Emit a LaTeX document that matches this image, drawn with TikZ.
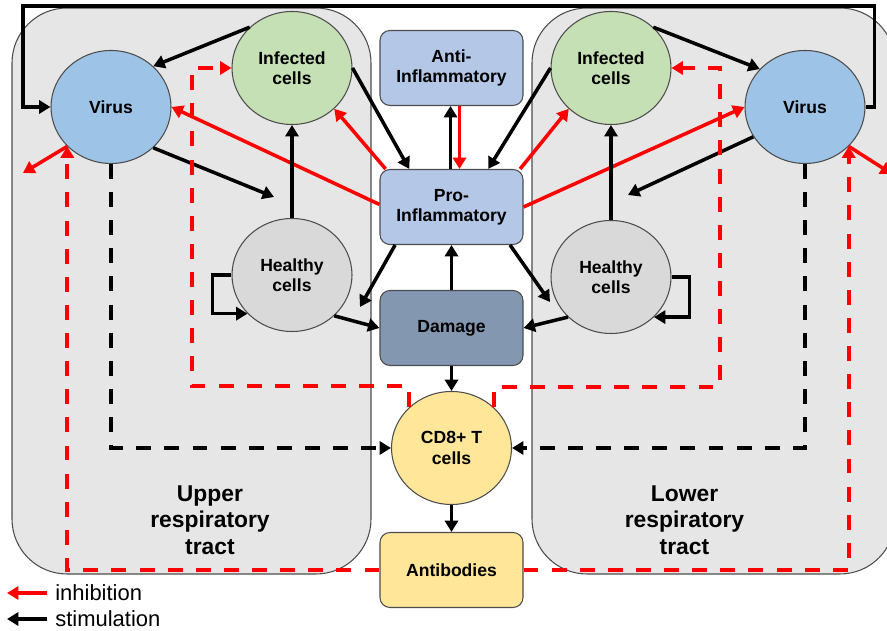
\documentclass[tikz,border=0pt]{standalone}
\usepackage{fontspec}
\setmainfont{Liberation Sans}
\usetikzlibrary{arrows.meta,shapes.geometric}

\definecolor{virusblue}{HTML}{9DC3E6}
\definecolor{infgreen}{HTML}{C5E0B4}
\definecolor{healthgray}{HTML}{D9D9D9}
\definecolor{inflblue}{HTML}{B4C7E7}
\definecolor{dmgblue}{HTML}{8497B0}
\definecolor{immyellow}{HTML}{FFE699}
\definecolor{regiongray}{HTML}{E7E6E6}

\begin{document}
\begin{tikzpicture}[
	cell/.style = {ellipse, draw=black!70, line width=0.6pt, minimum width=2.4cm, minimum height=2.26cm, inner sep=0pt, align=center, font=\fontsize{10}{11.5}\selectfont\bfseries},
	box/.style = {rectangle, rounded corners=0.2cm, draw=black!70, line width=0.6pt, minimum width=2.86cm, minimum height=1.5cm, align=center, font=\fontsize{10}{11.5}\selectfont\bfseries},
	region/.style = {fill=regiongray, draw=black!70, line width=0.6pt, rounded corners=1.1cm},
	regionlabel/.style = {align=center, font=\fontsize{13}{15}\selectfont\bfseries},
	stim/.style = {draw=black, line width=2pt, -{Triangle[length=6.5pt,width=7.5pt]}},
	inh/.style = {draw=red, line width=2pt, -{Triangle[length=6.5pt,width=7.5pt]}},
	stimd/.style = {stim, dash pattern=on 8.5pt off 7.5pt},
	inhd/.style = {inh, dash pattern=on 8.5pt off 7.5pt}
	]
	\useasboundingbox (0,0) rectangle (17.74,12.62);
	\draw[region] (0.24,1.14) rectangle (7.42,12.46);
	\draw[region] (10.64,1.14) rectangle (17.90,12.46);
	\node (UR) at ( 4.20,  2.22)	[regionlabel]	{Upper\\respiratory\\tract};
	\node (LR) at (13.69,  2.22)	[regionlabel]	{Lower\\respiratory\\tract};

	\node (VU) at ( 2.22, 10.48)	[cell, fill = virusblue]	{Virus};
	\node (IU) at ( 5.84, 11.26)	[cell, fill = infgreen]	{Infected\\cells};
	\node (HU) at ( 5.84,  7.12)	[cell, fill = healthgray]	{Healthy\\cells};
	\node (AI) at ( 9.03, 11.26)	[box, fill = inflblue]	{Anti-\\Inflammatory};
	\node (PI) at ( 9.03,  8.48)	[box, fill = inflblue]	{Pro-\\Inflammatory};
	\node (DM) at ( 9.03,  6.06)	[box, fill = dmgblue]	{Damage};
	\node (CD) at ( 9.03,  3.66)	[cell, fill = immyellow]	{CD8+ T\\cells};
	\node (AB) at ( 9.03,  1.22)	[box, fill = immyellow]	{Antibodies};
	\node (IL) at (12.22, 11.26)	[cell, fill = infgreen]	{Infected\\cells};
	\node (VL) at (16.10, 10.48)	[cell, fill = virusblue]	{Virus};
	\node (HL) at (12.22,  7.08)	[cell, fill = healthgray]	{Healthy\\cells};

	\coordinate (vuh) at ( 5.48, 8.68);
	\coordinate (phu) at ( 7.20, 6.48);
	\coordinate (vlh) at (12.56, 8.72);
	\coordinate (phl) at (11.00, 6.58);
	\coordinate (vuo) at ( 0.46, 9.16);
	\coordinate (vlo) at (17.84, 9.14);

	\draw[stim] (VL.east) -- ++(0.18,0) |- (0.46,12.5) |- (VU.west);
	\draw[stim] (IU.136) -- (VU.44);
	\draw[stim] (IU.east) -- (PI.138);
	\draw[inh] (PI.150) -- (IU.-44);
	\draw[inh] (PI.178) -- (VU.east);
	\draw[stim] (VU.-44) -- (vuh);
	\draw[stim] (HU) -- (IU);
	\draw[stim] (HU.west) -- ++(-0.38,0) |- (HU.221);
	\draw[stim] (PI.214) -- (phu);
	\draw[stim] (HU.-44) -- (DM.west);
	\draw[stim] (DM) -- (PI);
	\draw[stim] ([xshift=-0.02cm]PI.north) -- ([xshift=-0.02cm]AI.south);
	\draw[inh] ([xshift=0.16cm]AI.south) -- ([xshift=0.16cm]PI.north);
	\draw[stim] (IL.west) -- (PI.46);
	\draw[inh] (PI.29) -- (IL.224);
	\draw[inh] (PI.east) -- (VL.west);
	\draw[stim] (IL.44) -- (VL.140);
	\draw[stim] (VL.210) -- (vlh);
	\draw[stim] (HL) -- (IL);
	\draw[stim] (HL.east) -- ++(0.36,0) |- (HL.-43);
	\draw[stim] (PI.-33) -- (phl);
	\draw[stim] (HL.223) -- (DM.east);
	\draw[stim] (DM) -- (CD);
	\draw[stim] (CD) -- (AB);

	\draw[stimd] (VU.south) |- (CD.west);
	\draw[stimd] (VL.south) |- (CD.east);
	\draw[inhd] (CD.136) |- (3.84,4.90) |- (IU.west);
	\draw[inhd] (CD.44) |- (14.40,4.88) |- (IL.east);
	\draw[inhd] (AB.west) -| (VU.222);
	\draw[inhd] (AB.east) -| (VL.318);
	\draw[inh] (VU.222) -- (vuo);
	\draw[inh] (VL.318) -- (vlo);

	\node (inhtxt) at (1.10, 0.76)	[anchor=west, inner sep=0pt, font=\fontsize{12.5}{14}\selectfont]	{inhibition};
	\node (stimtxt) at (1.10, 0.24)	[anchor=west, inner sep=0pt, font=\fontsize{12.5}{14}\selectfont]	{stimulation};
	\draw[inh] ([xshift=-0.16cm]inhtxt.west) -- ++(-0.8,0);
	\draw[stim] ([xshift=-0.16cm]stimtxt.west) -- ++(-0.8,0);
\end{tikzpicture}
\end{document}
